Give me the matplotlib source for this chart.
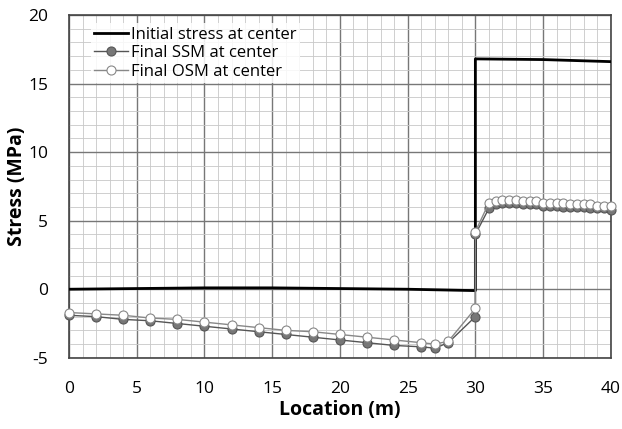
import matplotlib.pyplot as plt
from matplotlib.ticker import MultipleLocator

# initial stress along the centre line
init_x = [0, 5, 10, 15, 20, 25, 30, 30, 35, 40]
init_y = [0.0, 0.05, 0.1, 0.1, 0.05, 0.0, -0.1, 16.8, 16.75, 16.6]

# final stress, SSM and OSM (same locations)
loc = [0, 2, 4, 6, 8, 10, 12, 14, 16, 18, 20, 22, 24, 26, 27, 28, 30, 30,
       31, 31.5, 32, 32.5, 33, 33.5, 34, 34.5, 35, 35.5, 36, 36.5, 37, 37.5,
       38, 38.5, 39, 39.5, 40]
ssm = [-1.9, -2.0, -2.2, -2.3, -2.5, -2.7, -2.9, -3.1, -3.3, -3.5, -3.7, -3.9,
       -4.1, -4.2, -4.3, -3.9, -2.0, 4.0,
       5.9, 6.2, 6.3, 6.3, 6.3, 6.2, 6.2, 6.2, 6.1, 6.1, 6.1, 6.0, 6.0, 6.0,
       6.0, 5.9, 5.9, 5.9, 5.8]
osm = [-1.7, -1.8, -1.9, -2.1, -2.2, -2.4, -2.6, -2.8, -3.0, -3.1, -3.3, -3.5,
       -3.7, -3.9, -4.0, -3.8, -1.4, 4.2,
       6.3, 6.4, 6.5, 6.5, 6.5, 6.4, 6.4, 6.4, 6.3, 6.3, 6.3, 6.3, 6.2, 6.2,
       6.2, 6.2, 6.1, 6.1, 6.1]

plt.rcParams['font.family'] = ['Open Sans', 'DejaVu Sans']
plt.rcParams['axes.unicode_minus'] = False

fig = plt.figure(figsize=(6.22, 4.29), dpi=100)
ax = fig.add_axes([0.111, 0.166, 0.871, 0.799])

ax.plot(init_x, init_y, color='black', lw=2.0, label='Initial stress at center', zorder=3)
ax.plot(loc, ssm, color='#555555', lw=1.0, marker='o', ms=6.5,
        markerfacecolor='#777777', markeredgecolor='#555555', markeredgewidth=0.8,
        label='Final SSM at center', zorder=4, clip_on=False)
ax.plot(loc, osm, color='#888888', lw=1.0, marker='o', ms=6.5,
        markerfacecolor='white', markeredgecolor='#888888', markeredgewidth=0.8,
        label='Final OSM at center', zorder=4, clip_on=False)

ax.set_xlim(0, 40)
ax.set_ylim(-5, 20)
ax.xaxis.set_major_locator(MultipleLocator(5))
ax.yaxis.set_major_locator(MultipleLocator(5))
ax.xaxis.set_minor_locator(MultipleLocator(1))
ax.yaxis.set_minor_locator(MultipleLocator(1))
ax.grid(which='major', color='#777777', lw=1.0)
ax.grid(which='minor', color='#c8c8c8', lw=0.6)
ax.set_axisbelow(True)
ax.tick_params(which='both', length=0, labelsize=12.5)
ax.tick_params(axis='x', pad=17)
ax.tick_params(axis='y', pad=15)
for s in ax.spines.values():
    s.set_color('#444444')
    s.set_linewidth(1.2)

ax.set_xlabel('Location (m)', fontsize=14, fontweight='bold', labelpad=2)
ax.set_ylabel('Stress (MPa)', fontsize=14, fontweight='bold')
ax.yaxis.set_label_coords(-0.078, 0.5)

leg = ax.legend(loc='upper left', fontsize=12, frameon=True, fancybox=False,
                handlelength=2.0, handletextpad=0.2, labelspacing=0.15,
                borderpad=0.2, bbox_to_anchor=(0.025, 1.0))
leg.get_frame().set_edgecolor('none')
leg.get_frame().set_facecolor('white')
leg.get_frame().set_alpha(0.85)

fig.savefig('out.png', dpi=100)
